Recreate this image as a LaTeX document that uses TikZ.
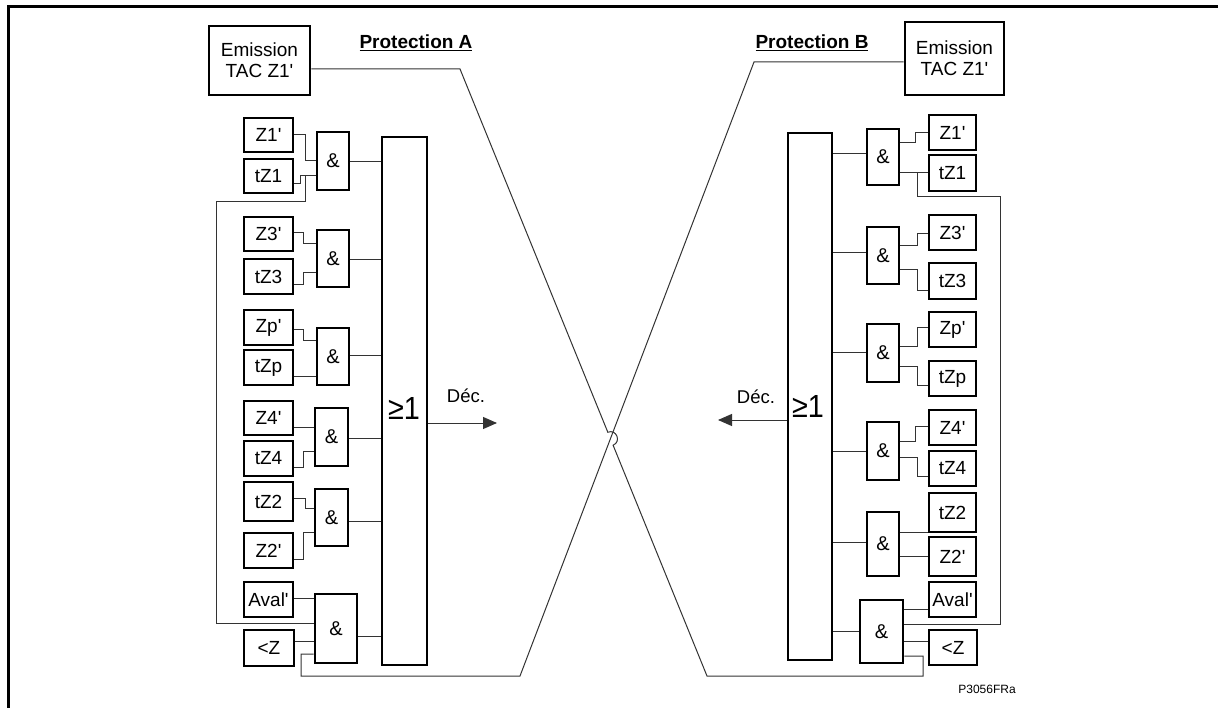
\documentclass[tikz,border=0pt]{standalone}
\usepackage{fontspec}
\setmainfont{Liberation Sans}
\usetikzlibrary{arrows.meta,calc}
\newcommand\myq{\textquotesingle}
% box from its outer corners (x1,y1)-(x2,y2), in pixel-like units
\newcommand\mkbox[6]{\node[#1, minimum width={(#4)-(#2)-2}, minimum height={(#5)-(#3)-2}] (#6) at ({((#2)+(#4))/2},{((#3)+(#5))/2})}
\tikzset{
  outerframe/.style={line width=3pt},
  inbox/.style={draw, line width=2.6pt, inner sep=0pt, align=center, font=\fontsize{19}{21}\selectfont},
  gate/.style={draw, line width=2.6pt, inner sep=0pt, font=\fontsize{20}{22}\selectfont},
  orbox/.style={draw, line width=2.6pt, inner sep=0pt},
  wire/.style={line width=1pt, draw=black!80},
  outarrow/.style={wire, -{Triangle[length=14pt,width=12pt]}},
  protlabel/.style={font=\fontsize{19}{21}\selectfont\bfseries, inner sep=0pt},
  lbl/.style={font=\fontsize{18.5}{20}\selectfont, inner sep=0pt},
  gesign/.style={font=\fontsize{32}{34}\selectfont, inner sep=0pt, xscale=0.9},
  refcode/.style={font=\fontsize{12}{14}\selectfont, inner sep=0pt},
}
\begin{document}
\begin{tikzpicture}[x=1pt,y=-1pt]
\useasboundingbox (0,0) rectangle (1218,708);
\draw[outerframe] (8.5,708) -- (8.5,6.5) -- (1218,6.5);

% ---------------- Protection A ----------------
\node[protlabel] (aTitle) at (416,43) {\underline{Protection A}};
\mkbox{inbox}{208}{25}{311}{96}{aEm}{Emission\\TAC Z1\myq};
\mkbox{inbox}{243}{117}{294}{153}{aZ1}{Z1\myq};
\mkbox{inbox}{243}{158}{294}{194}{atZ1}{tZ1};
\mkbox{inbox}{243}{216}{294}{252}{aZ3}{Z3\myq};
\mkbox{inbox}{243}{258}{294}{295}{atZ3}{tZ3};
\mkbox{inbox}{243}{309}{294}{346}{aZp}{Zp\myq};
\mkbox{inbox}{243}{349}{294}{386}{atZp}{tZp};
\mkbox{inbox}{243}{400}{294}{436}{aZ4}{Z4\myq};
\mkbox{inbox}{243}{440}{294}{477}{atZ4}{tZ4};
\mkbox{inbox}{243}{481}{294}{522}{atZ2}{tZ2};
\mkbox{inbox}{243}{532}{294}{569}{aZ2}{Z2\myq};
\mkbox{inbox}{243}{581}{294}{618}{aAv}{Aval\myq};
\mkbox{inbox}{243}{629}{295}{667}{aLZ}{<Z};

\mkbox{gate}{316}{131}{350}{191}{ag1}{\&};
\mkbox{gate}{316}{229}{350}{288}{ag2}{\&};
\mkbox{gate}{316}{327}{350}{386}{ag3}{\&};
\mkbox{gate}{314}{407}{349}{467}{ag4}{\&};
\mkbox{gate}{314}{488}{349}{547}{ag5}{\&};
\mkbox{gate}{314}{593}{358}{664}{ag6}{\&};
\mkbox{orbox}{381}{136}{428}{666}{aOr}{};
\node[gesign] (aGe) at (404,408) {≥1};

\draw[wire] (aZ1.east |- 0,135) -- (305,135) -- (305,161) -- (ag1.west |- 0,161);
\draw[wire] (atZ1.east |- 0,184) -- (300,184) -- (300,176) -- (ag1.west |- 0,176);
\draw[wire] (ag6.west |- 0,623) -- (216,623) -- (216,202) -- (305,202) -- (305,176);
\draw[wire] (aZ3.east |- 0,233) -- (303,233) -- (303,244) -- (ag2.west |- 0,244);
\draw[wire] (atZ3.east |- 0,285) -- (303,285) -- (303,273) -- (ag2.west |- 0,273);
\draw[wire] (aZp.east |- 0,330) -- (303,330) -- (303,341) -- (ag3.west |- 0,341);
\draw[wire] (atZp.east |- 0,377) -- (ag3.west |- 0,377);
\draw[wire] (aZ4.east |- 0,427) -- (ag4.west |- 0,427);
\draw[wire] (atZ4.east |- 0,467) -- (303,467) -- (303,451) -- (ag4.west |- 0,451);
\draw[wire] (atZ2.east |- 0,498) -- (305,498) -- (305,508) -- (ag5.west |- 0,508);
\draw[wire] (aZ2.east |- 0,559) -- (303,559) -- (303,532) -- (ag5.west |- 0,532);
\draw[wire] (aAv.east |- 0,598) -- (ag6.west |- 0,598);
\draw[wire] (aLZ.east |- 0,641) -- (ag6.west |- 0,641);

\draw[wire] (ag1.east |- 0,162) -- (aOr.west |- 0,162);
\draw[wire] (ag2.east |- 0,260) -- (aOr.west |- 0,260);
\draw[wire] (ag3.east |- 0,356) -- (aOr.west |- 0,356);
\draw[wire] (ag4.east |- 0,438) -- (aOr.west |- 0,438);
\draw[wire] (ag5.east |- 0,521) -- (aOr.west |- 0,521);
\draw[wire] (ag6.east |- 0,636) -- (aOr.west |- 0,636);

\node[lbl] (aDec) at (466,396) {Déc.};
\coordinate (aOut) at (497,423);
\draw[outarrow] (aOr.east |- 0,423) -- (aOut);

% ---------------- Protection B ----------------
\node[protlabel] (bTitle) at (812,43) {\underline{Protection B}};
\mkbox{inbox}{904}{21}{1005}{96}{bEm}{Emission\\TAC Z1\myq};
\mkbox{inbox}{928}{114}{977}{151}{bZ1}{Z1\myq};
\mkbox{inbox}{928}{154}{977}{192}{btZ1}{tZ1};
\mkbox{inbox}{928}{214}{977}{251}{bZ3}{Z3\myq};
\mkbox{inbox}{928}{262}{977}{300}{btZ3}{tZ3};
\mkbox{inbox}{928}{311}{977}{348}{bZp}{Zp\myq};
\mkbox{inbox}{928}{360}{977}{397}{btZp}{tZp};
\mkbox{inbox}{928}{409}{977}{446}{bZ4}{Z4\myq};
\mkbox{inbox}{928}{450}{977}{487}{btZ4}{tZ4};
\mkbox{inbox}{928}{492}{977}{533}{btZ2}{tZ2};
\mkbox{inbox}{928}{536}{977}{577}{bZ2}{Z2\myq};
\mkbox{inbox}{928}{581}{977}{618}{bAv}{Aval\myq};
\mkbox{inbox}{928}{629}{978}{666}{bLZ}{<Z};

\mkbox{gate}{866}{128}{900}{186}{bg1}{\&};
\mkbox{gate}{866}{226}{900}{285}{bg2}{\&};
\mkbox{gate}{866}{323}{900}{383}{bg3}{\&};
\mkbox{gate}{866}{421}{900}{481}{bg4}{\&};
\mkbox{gate}{866}{511}{900}{577}{bg5}{\&};
\mkbox{gate}{859}{599}{904}{664}{bg6}{\&};
\mkbox{orbox}{787}{132}{833}{661}{bOr}{};
\node[gesign] (bGe) at (808,406) {≥1};

\draw[wire] (bg1.east |- 0,143) -- (915,143) -- (915,133) -- (bZ1.west |- 0,133);
\draw[wire] (bg1.east |- 0,173) -- (btZ1.west |- 0,173);
\draw[wire] (917,173) -- (917,197) -- (1000,197) -- (1000,624) -- (bg6.east |- 0,624);
\draw[wire] (bg2.east |- 0,246) -- (917,246) -- (917,234) -- (bZ3.west |- 0,234);
\draw[wire] (bg2.east |- 0,270) -- (917,270) -- (917,291) -- (btZ3.west |- 0,291);
\draw[wire] (bg3.east |- 0,347) -- (917,347) -- (917,328) -- (bZp.west |- 0,328);
\draw[wire] (bg3.east |- 0,367) -- (917,367) -- (917,386) -- (btZp.west |- 0,386);
\draw[wire] (bg4.east |- 0,441) -- (915,441) -- (915,426) -- (bZ4.west |- 0,426);
\draw[wire] (bg4.east |- 0,457) -- (917,457) -- (917,476) -- (btZ4.west |- 0,476);
\draw[wire] (bg5.east |- 0,532) -- (btZ2.west |- 0,532);
\draw[wire] (bg5.east |- 0,556) -- (bZ2.west |- 0,556);
\draw[wire] (bg6.east |- 0,609) -- (bAv.west |- 0,609);
\draw[wire] (bg6.east |- 0,641) -- (bLZ.west |- 0,641);

\draw[wire] (bOr.east |- 0,154) -- (bg1.west |- 0,154);
\draw[wire] (bOr.east |- 0,253) -- (bg2.west |- 0,253);
\draw[wire] (bOr.east |- 0,353) -- (bg3.west |- 0,353);
\draw[wire] (bOr.east |- 0,451) -- (bg4.west |- 0,451);
\draw[wire] (bOr.east |- 0,542) -- (bg5.west |- 0,542);
\draw[wire] (bOr.east |- 0,631) -- (bg6.west |- 0,631);

\node[lbl] (bDec) at (756,397) {Déc.};
\coordinate (bOut) at (718,420);
\draw[outarrow] (bOr.west |- 0,420) -- (bOut);

% ---------------- crossed transmission links ----------------
\coordinate (aKnee) at (460,69);
\coordinate (aFoot) at (707,676);
\coordinate (bKnee) at (754,62);
\coordinate (bFoot) at (520,676);
\coordinate (cross) at (intersection of aKnee--aFoot and bKnee--bFoot);
\coordinate (hopIn) at ($(cross)!7pt!(aKnee)$);
\coordinate (hopOut) at ($(cross)!7pt!(aFoot)$);

\draw[wire] (aEm.east |- 0,69) -- (aKnee) -- (hopIn)
  .. controls ($(hopIn)+(8.6,-3.5)$) and ($(hopOut)+(8.6,-3.5)$) .. (hopOut)
  -- (aFoot) -- (923,676) -- (923,656) -- (bg6.east |- 0,656);
\draw[wire] (bEm.west |- 0,62) -- (bKnee) -- (bFoot) -- (301,676) -- (301,654) -- (ag6.west |- 0,654);

\node[refcode] (code) at (987,689) {P3056FRa};
\end{tikzpicture}
\end{document}
